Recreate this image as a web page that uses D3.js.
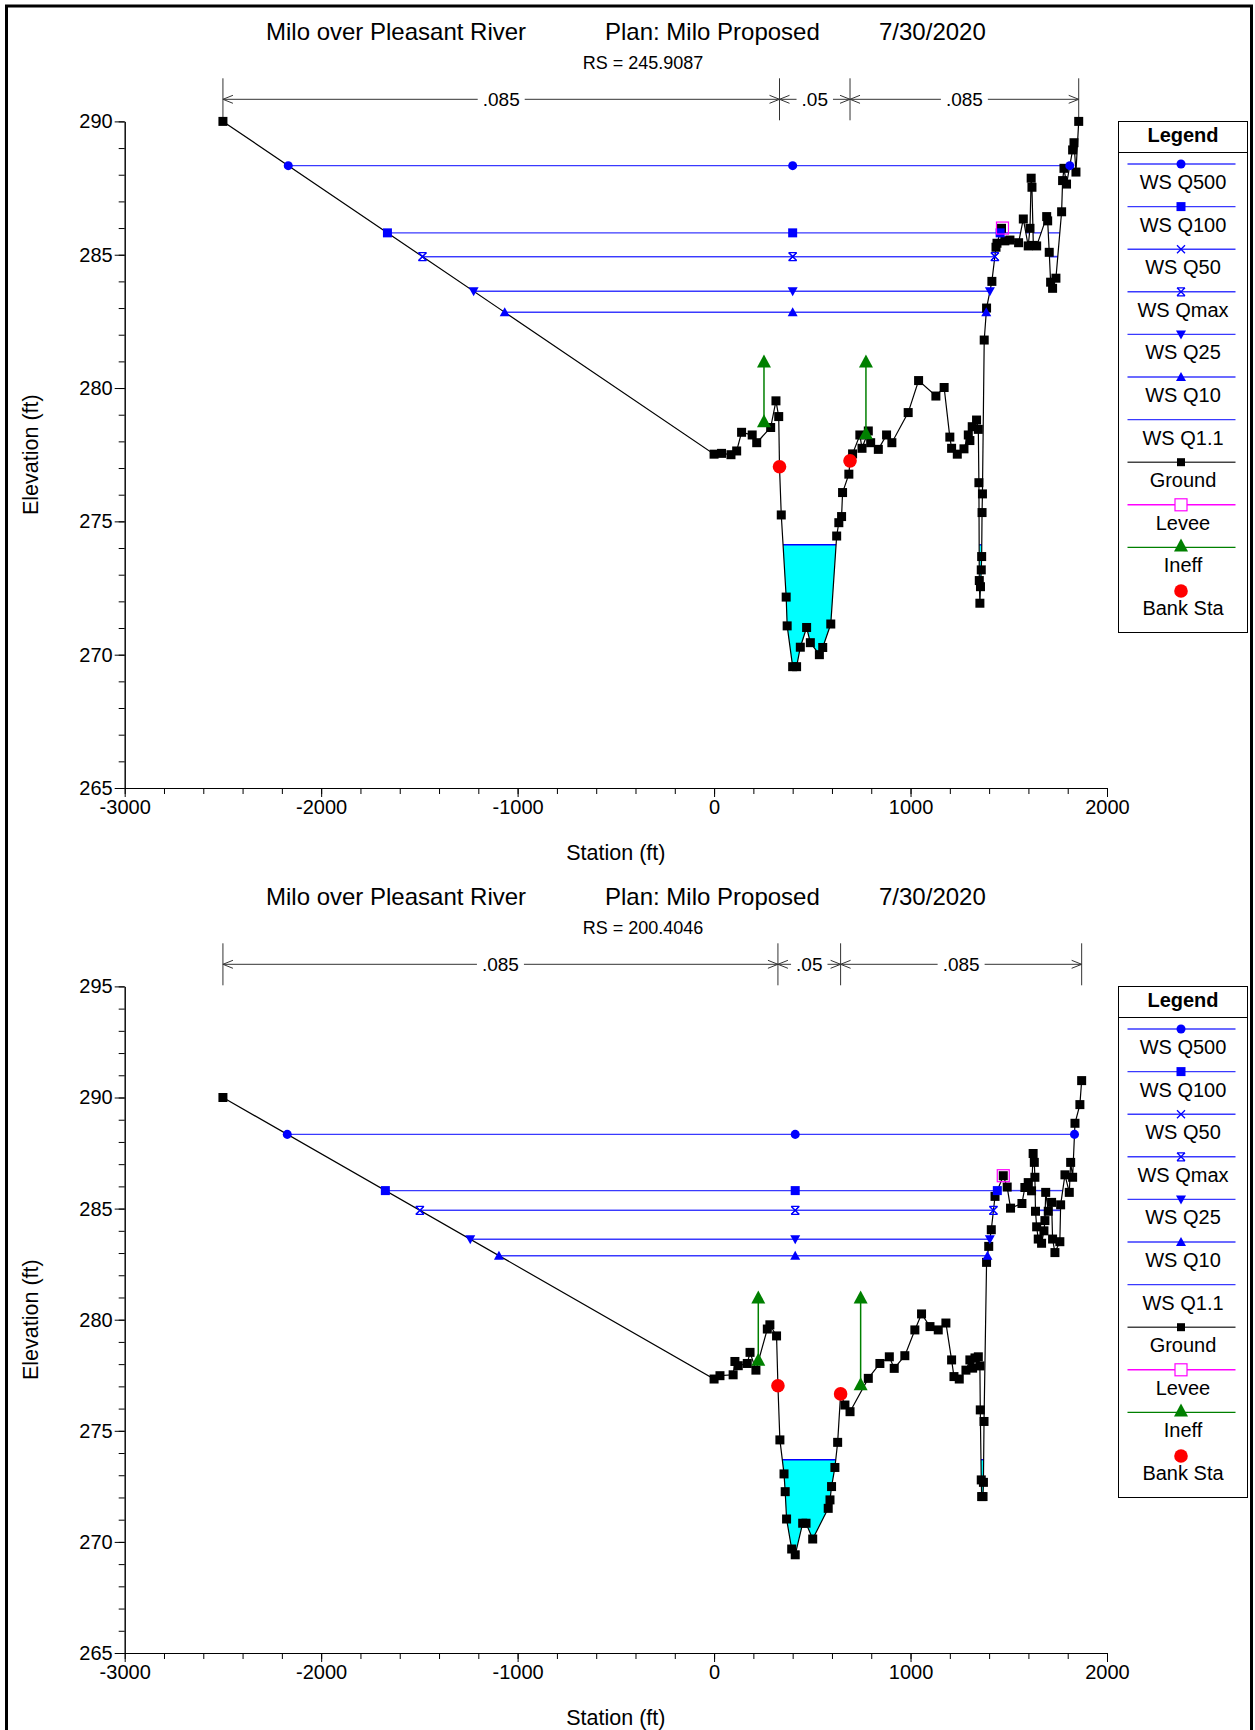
<!DOCTYPE html>
<html>
<head>
<meta charset="utf-8">
<script src="https://cdn.jsdelivr.net/npm/d3@7"></script>
<style>
  html, body { margin: 0; padding: 0; background: #fff; }
  svg { display: block; font-family: "Liberation Sans", Arial, sans-serif; }
</style>
</head>
<body>
<svg id="chart" width="1255" height="1730"></svg>
<script>
// ---- Titles ----
const titleParts = ["Milo over Pleasant River", "Plan: Milo Proposed", "7/30/2020"];
const sectionLabels = ["RS = 245.9087", "RS = 200.4046"];

// ---- Water surface profiles ----
const wsProfiles = ["WS Q500", "WS Q100", "WS Q50", "WS Qmax", "WS Q25", "WS Q10", "WS Q1.1"];
const wsSymbols  = ["circle", "square", "cross", "hourglass", "triDown", "triUp", "none"];
const wsElevUpper = [288.34, 285.82, 284.93, 284.93, 283.63, 282.84, 274.12];
const wsElevLower = [288.34, 285.81, 284.92, 284.92, 283.62, 282.88, 273.70];

// ---- Ground, RS 245.9087 ----
const groundStaUpper = [-2500, 0, 38, 86, 115, 140, 194, 217, 288, 315, 329, 333, 342, 367, 372, 400, 420, 439, 471, 490,
  536, 553, 594, 624, 635, 649, 654, 686, 692, 705, 742, 753, 785, 797, 836, 878, 905, 988, 1041, 1129,
  1171, 1200, 1209, 1238, 1272, 1294, 1302, 1314, 1336, 1345, 1348, 1350, 1353, 1356, 1360, 1362, 1364, 1366, 1375, 1387,
  1414, 1435, 1440, 1463, 1480, 1506, 1550, 1574, 1599, 1608, 1614, 1618, 1625, 1642, 1693, 1698, 1706, 1713, 1723, 1740,
  1769, 1774, 1781, 1794, 1825, 1832, 1842, 1856];
const groundElevUpper = [290.0, 277.52, 277.55, 277.5, 277.64, 278.34, 278.24, 277.95, 278.52, 279.52, 278.93, 277.05, 275.24, 272.16, 271.08, 269.55, 269.55, 270.28, 271.02, 270.45,
  270.0, 270.27, 271.15, 274.45, 274.95, 275.18, 276.08, 276.77, 277.27, 277.53, 278.24, 277.74, 278.39, 277.95, 277.7, 278.24, 277.95, 279.08, 280.28, 279.7,
  280.02, 278.16, 277.74, 277.52, 277.72, 278.24, 278.03, 278.55, 278.8, 278.45, 276.45, 272.78, 271.93, 272.55, 273.18, 273.68, 275.33, 276.03, 281.8, 283.0,
  284.0, 285.28, 285.43, 285.99, 285.52, 285.55, 285.45, 286.34, 285.33, 285.99, 287.87, 287.53, 285.35, 285.33, 286.43, 286.27, 285.09, 283.97, 283.74, 284.12,
  286.61, 287.78, 288.24, 287.65, 288.93, 289.2, 288.1, 290.0];

// ---- Ground, RS 200.4046 ----
const groundStaLower = [-2500, 0, 30, 97, 106, 123, 169, 183, 213, 271, 284, 318, 325, 335, 356, 362, 369, 395, 413, 451,
  468, 502, 581, 590, 598, 615, 629, 644, 666, 692, 785, 844, 892, 917, 971, 1022, 1056, 1099, 1141, 1180,
  1209, 1221, 1248, 1282, 1302, 1316, 1328, 1345, 1353, 1355, 1360, 1362, 1369, 1371, 1374, 1387, 1398, 1411, 1430, 1472,
  1492, 1509, 1567, 1582, 1599, 1616, 1624, 1630, 1633, 1636, 1642, 1650, 1667, 1679, 1684, 1688, 1701, 1718, 1723, 1735,
  1760, 1764, 1786, 1808, 1815, 1825, 1837, 1862, 1871];
const groundElevLower = [290.0, 277.33, 277.48, 277.52, 278.12, 277.93, 278.03, 278.53, 277.73, 279.58, 279.77, 279.27, 277.03, 274.59, 273.06, 272.26, 271.03, 269.68, 269.42, 270.84,
  270.84, 270.13, 271.51, 271.89, 272.49, 273.35, 274.48, 276.66, 276.16, 275.86, 277.36, 278.03, 278.33, 277.81, 278.38, 279.54, 280.26, 279.69, 279.54, 279.85,
  278.19, 277.44, 277.33, 277.73, 278.19, 277.82, 278.28, 278.33, 277.92, 275.94, 272.79, 272.04, 272.04, 272.68, 275.42, 282.58, 283.3, 284.05, 285.55, 286.48,
  285.97, 285.02, 285.23, 285.95, 286.17, 285.8, 287.48, 287.08, 286.41, 284.88, 284.18, 283.63, 283.44, 284.0, 284.46, 285.73, 284.88, 285.28, 283.63, 283.02,
  283.51, 285.17, 286.52, 285.73, 287.08, 286.41, 288.84, 289.68, 290.76];

// ---- Bank stations, levees, ineffective areas ----
const bankStaUpper = [333, 692];
const bankStaLower = [325, 644];
const leveeStaUpper = [1468];
const leveeElevUpper = [286.0];
const leveeStaLower = [1472];
const leveeElevLower = [286.48];
const ineffStaUpper = [254, 773];
const ineffLowUpper = [278.75, 278.3];
const ineffHighUpper = [281.0, 281.0];
const ineffStaLower = [225, 746];
const ineffLowLower = [278.2, 277.1];
const ineffHighLower = [281.0, 281.0];

// ---- Manning's n ----
const nValues = [".085", ".05", ".085"];

// ---- Axes ----
const xDomain = [-3000, 2000];
const xTicks = [-3000, -2000, -1000, 0, 1000, 2000];
const yDomainUpper = [265, 290];
const yDomainLower = [265, 295];
const yTicksUpper = [265, 270, 275, 280, 285, 290];
const yTicksLower = [265, 270, 275, 280, 285, 290, 295];

const legendItems = wsProfiles.concat(["Ground", "Levee", "Ineff", "Bank Sta"]);

// ---- Layout ----
const PL = 124.7, PR = 1107, PT = 121.4, PB = 788;
const SECTION_SHIFT = 865;
const WS_COLOR = "#3a3aff";
const MARK_BLUE = "#0000ff";
const plainNumber = d => String(d);   // keeps an ASCII hyphen for negatives

const svg = d3.select("#chart");

// outer frame
svg.append("rect")
  .attr("x", 6.5).attr("y", 6).attr("width", 1245).attr("height", 1780)
  .attr("fill", "none").attr("stroke", "#000").attr("stroke-width", 3);

function symbolPath(kind) {
  switch (kind) {
    case "circle": return d3.symbol(d3.symbolCircle, 64)();
    case "square": return "M-4.5,-4.5H4.5V4.5H-4.5Z";
    case "cross": return "M-4,-4L4,4M-4,4L4,-4";
    case "hourglass": return "M-4,-4H4M-4,4H4M-4,-4L4,4M-4,4L4,-4";
    case "triDown": return "M-5,-4L5,-4L0,5Z";
    case "triUp": return "M-5,4L5,4L0,-5Z";
    default: return null;
  }
}
const strokedSymbols = new Set(["cross", "hourglass"]);

function drawMarker(g, kind, cx, cy) {
  const p = symbolPath(kind);
  if (!p) return;
  const el = g.append("path").attr("d", p).attr("transform", `translate(${cx},${cy})`);
  if (strokedSymbols.has(kind)) el.attr("fill", "none").attr("stroke", MARK_BLUE).attr("stroke-width", 1.3);
  else el.attr("fill", MARK_BLUE);
}

function interpElev(sta, elev, s) {
  for (let i = 1; i < sta.length; i++) {
    if (s <= sta[i]) {
      const t = (s - sta[i - 1]) / (sta[i] - sta[i - 1] || 1);
      return elev[i - 1] + t * (elev[i] - elev[i - 1]);
    }
  }
  return elev[elev.length - 1];
}

// stretches of the section where the ground lies below a given water level
function wetIntervals(sta, elev, ws) {
  const out = [];
  let start = elev[0] < ws ? sta[0] : null;
  for (let i = 1; i < sta.length; i++) {
    const below = elev[i] < ws, wasBelow = elev[i - 1] < ws;
    if (below !== wasBelow) {
      const t = (ws - elev[i - 1]) / (elev[i] - elev[i - 1]);
      const xs = sta[i - 1] + t * (sta[i] - sta[i - 1]);
      if (below) start = xs; else { out.push([start, xs]); start = null; }
    }
  }
  if (start !== null) out.push([start, sta[sta.length - 1]]);
  return out;
}

function drawSection(idx, cfg) {
  const g = svg.append("g").attr("transform", `translate(0,${idx * SECTION_SHIFT})`);
  const x = d3.scaleLinear().domain(xDomain).range([PL, PR]);
  const y = d3.scaleLinear().domain(cfg.yDomain).range([PB, PT]);
  const ground = cfg.sta.map((s, i) => ({ s, e: cfg.elev[i] }));

  // titles
  const tx = [266, 605, 879];
  titleParts.forEach((t, i) => {
    g.append("text").attr("x", tx[i]).attr("y", 40).attr("font-size", 24).attr("fill", "#000").text(t);
  });
  g.append("text").attr("x", 643).attr("y", 68.5).attr("text-anchor", "middle")
    .attr("font-size", 18).text(sectionLabels[idx]);

  // Manning's n band
  const bandY = 99.3;
  const bounds = [cfg.sta[0], cfg.bank[0], cfg.bank[1], cfg.sta[cfg.sta.length - 1]];
  const band = g.append("g").attr("stroke", "#333").attr("fill", "none").attr("stroke-width", 1);
  bounds.forEach(b => {
    band.append("line").attr("x1", x(b)).attr("x2", x(b)).attr("y1", bandY - 21).attr("y2", bandY + 21);
  });
  nValues.forEach((v, i) => {
    const x0 = x(bounds[i]), x1 = x(bounds[i + 1]);
    const mid = (x0 + x1) / 2;
    const lab = g.append("text").attr("x", mid).attr("y", bandY + 7).attr("text-anchor", "middle")
      .attr("font-size", 19).text(v);
    const w = lab.node().getComputedTextLength();
    const gap = w / 2 + 5;
    band.append("line").attr("x1", x0).attr("x2", mid - gap).attr("y1", bandY).attr("y2", bandY);
    band.append("line").attr("x1", mid + gap).attr("x2", x1).attr("y1", bandY).attr("y2", bandY);
    band.append("path").attr("d", `M${x0 + 10},${bandY - 4}L${x0},${bandY}L${x0 + 10},${bandY + 4}`);
    band.append("path").attr("d", `M${x1 - 10},${bandY - 4}L${x1},${bandY}L${x1 - 10},${bandY + 4}`);
  });

  // water fill below the lowest profile
  const clipId = "aboveGround" + idx;
  g.append("clipPath").attr("id", clipId).append("path")
    .attr("d", d3.area().x(d => x(d.s)).y0(PT - 50).y1(d => y(d.e))(ground));
  const fillWs = cfg.ws[cfg.ws.length - 1];
  const fillG = g.append("g").attr("clip-path", `url(#${clipId})`);
  wetIntervals(cfg.sta, cfg.elev, fillWs).forEach(([a, b]) => {
    fillG.append("rect").attr("x", x(a)).attr("width", x(b) - x(a))
      .attr("y", y(fillWs)).attr("height", PB - y(fillWs)).attr("fill", "#00ffff");
  });

  // thalweg station: where profile markers sit mid-section
  let minI = 0;
  cfg.elev.forEach((e, i) => { if (e < cfg.elev[minI]) minI = i; });
  const thalweg = cfg.sta[minI];

  // water surface lines
  const wsG = g.append("g");
  cfg.ws.forEach((ws, k) => {
    const ints = wetIntervals(cfg.sta, cfg.elev, ws);
    ints.forEach(([a, b]) => {
      wsG.append("line").attr("x1", x(a)).attr("x2", x(b)).attr("y1", y(ws)).attr("y2", y(ws))
        .attr("stroke", k === cfg.ws.length - 1 ? MARK_BLUE : WS_COLOR).attr("stroke-width", 1.4);
    });
    cfg.wsMain[k] = ints.find(([a, b]) => a <= thalweg && b >= thalweg);
  });

  // ground line and points
  g.append("path").attr("d", d3.line().x(d => x(d.s)).y(d => y(d.e))(ground))
    .attr("fill", "none").attr("stroke", "#000").attr("stroke-width", 1.2);
  g.append("g").selectAll("rect").data(ground).join("rect")
    .attr("x", d => x(d.s) - 4.5).attr("y", d => y(d.e) - 4.5).attr("width", 9).attr("height", 9).attr("fill", "#000");

  // profile markers
  cfg.ws.forEach((ws, k) => {
    const main = cfg.wsMain[k];
    if (!main) return;
    [main[0], thalweg, main[1]].forEach(s => drawMarker(g, wsSymbols[k], x(s), y(ws)));
  });

  // levee
  cfg.leveeSta.forEach((s, i) => {
    g.append("rect").attr("x", x(s) - 6).attr("y", y(cfg.leveeElev[i]) - 6).attr("width", 12).attr("height", 12)
      .attr("fill", "none").attr("stroke", "#ff00ff").attr("stroke-width", 1.2);
  });

  // ineffective flow areas
  cfg.ineffSta.forEach((s, i) => {
    const cx = x(s), y0 = y(cfg.ineffLow[i]), y1 = y(cfg.ineffHigh[i]);
    g.append("line").attr("x1", cx).attr("x2", cx).attr("y1", y0).attr("y2", y1)
      .attr("stroke", "#008000").attr("stroke-width", 1.5);
    [y0, y1].forEach(cy => {
      g.append("path").attr("d", `M${cx - 7},${cy + 6}L${cx + 7},${cy + 6}L${cx},${cy - 7}Z`).attr("fill", "#008000");
    });
  });

  // bank stations
  cfg.bank.forEach(s => {
    g.append("circle").attr("cx", x(s)).attr("cy", y(interpElev(cfg.sta, cfg.elev, s))).attr("r", 6.8).attr("fill", "#ff0000");
  });

  // axes
  const yMinor = d3.range(cfg.yDomain[0], cfg.yDomain[1] + 1, 1);
  const xMinor = d3.range(xDomain[0], xDomain[1] + 1, 200);
  g.append("g").attr("transform", `translate(${PL},0)`)
    .call(d3.axisLeft(y).tickValues(yMinor).tickSize(6).tickSizeOuter(0).tickFormat(""));
  g.append("g").attr("transform", `translate(${PL},0)`)
    .call(d3.axisLeft(y).tickValues(cfg.yTicks).tickSize(10).tickSizeOuter(0).tickPadding(2).tickFormat(plainNumber))
    .call(a => a.selectAll("text").attr("font-size", 20).attr("font-family", "Liberation Sans, Arial, sans-serif").attr("fill", "#000"));
  g.append("g").attr("transform", `translate(0,${PB})`)
    .call(d3.axisBottom(x).tickValues(xMinor).tickSize(6).tickSizeOuter(0).tickFormat(""));
  g.append("g").attr("transform", `translate(0,${PB})`)
    .call(d3.axisBottom(x).tickValues(xTicks).tickSize(9).tickSizeOuter(0).tickPadding(3).tickFormat(plainNumber))
    .call(a => a.selectAll("text").attr("font-size", 20).attr("font-family", "Liberation Sans, Arial, sans-serif").attr("fill", "#000"));
  g.selectAll(".domain, .tick line").attr("stroke", "#000");

  g.append("text").attr("x", (PL + PR) / 2).attr("y", 860).attr("text-anchor", "middle").attr("font-size", 21.5).text("Station (ft)");
  g.append("text").attr("transform", `translate(38,${(PT + PB) / 2}) rotate(-90)`).attr("text-anchor", "middle")
    .attr("font-size", 21.5).text("Elevation (ft)");

  drawLegend(g);
}

function drawLegend(g) {
  const L = 1118.5, T = 121.5, W = 129, H = 511;
  const cx = L + W / 2;
  g.append("rect").attr("x", L).attr("y", T).attr("width", W).attr("height", H)
    .attr("fill", "#fff").attr("stroke", "#000").attr("stroke-width", 1);
  g.append("text").attr("x", cx).attr("y", T + 20.5).attr("text-anchor", "middle")
    .attr("font-size", 20).attr("font-weight", "bold").text("Legend");
  g.append("line").attr("x1", L).attr("x2", L + W).attr("y1", T + 31).attr("y2", T + 31).attr("stroke", "#000");
  const lineColors = [WS_COLOR, WS_COLOR, WS_COLOR, WS_COLOR, WS_COLOR, WS_COLOR, WS_COLOR, "#444", "#ff00ff", "#008000", null];
  legendItems.forEach((name, i) => {
    const ly = 164 + i * 42.6;
    if (lineColors[i]) {
      g.append("line").attr("x1", L + 9).attr("x2", L + W - 12).attr("y1", ly).attr("y2", ly)
        .attr("stroke", lineColors[i]).attr("stroke-width", 1.4);
    }
    if (i < wsSymbols.length) {
      drawMarker(g, wsSymbols[i], cx - 2, ly);
    } else if (name === "Ground") {
      g.append("rect").attr("x", cx - 6).attr("y", ly - 4).attr("width", 8).attr("height", 8).attr("fill", "#000");
    } else if (name === "Levee") {
      g.append("rect").attr("x", cx - 8).attr("y", ly - 6).attr("width", 12).attr("height", 12)
        .attr("fill", "#fff").attr("stroke", "#ff00ff").attr("stroke-width", 1.2);
    } else if (name === "Ineff") {
      g.append("path").attr("d", `M${cx - 9},${ly + 4}L${cx + 5},${ly + 4}L${cx - 2},${ly - 9}Z`).attr("fill", "#008000");
    } else if (name === "Bank Sta") {
      g.append("circle").attr("cx", cx - 2).attr("cy", ly + 1).attr("r", 6.8).attr("fill", "#ff0000");
    }
    g.append("text").attr("x", cx).attr("y", ly + 25).attr("text-anchor", "middle").attr("font-size", 20).text(name);
  });
}

drawSection(0, {
  yDomain: yDomainUpper, yTicks: yTicksUpper,
  sta: groundStaUpper, elev: groundElevUpper, ws: wsElevUpper, wsMain: [],
  bank: bankStaUpper, leveeSta: leveeStaUpper, leveeElev: leveeElevUpper,
  ineffSta: ineffStaUpper, ineffLow: ineffLowUpper, ineffHigh: ineffHighUpper
});
drawSection(1, {
  yDomain: yDomainLower, yTicks: yTicksLower,
  sta: groundStaLower, elev: groundElevLower, ws: wsElevLower, wsMain: [],
  bank: bankStaLower, leveeSta: leveeStaLower, leveeElev: leveeElevLower,
  ineffSta: ineffStaLower, ineffLow: ineffLowLower, ineffHigh: ineffHighLower
});
</script>
</body>
</html>
